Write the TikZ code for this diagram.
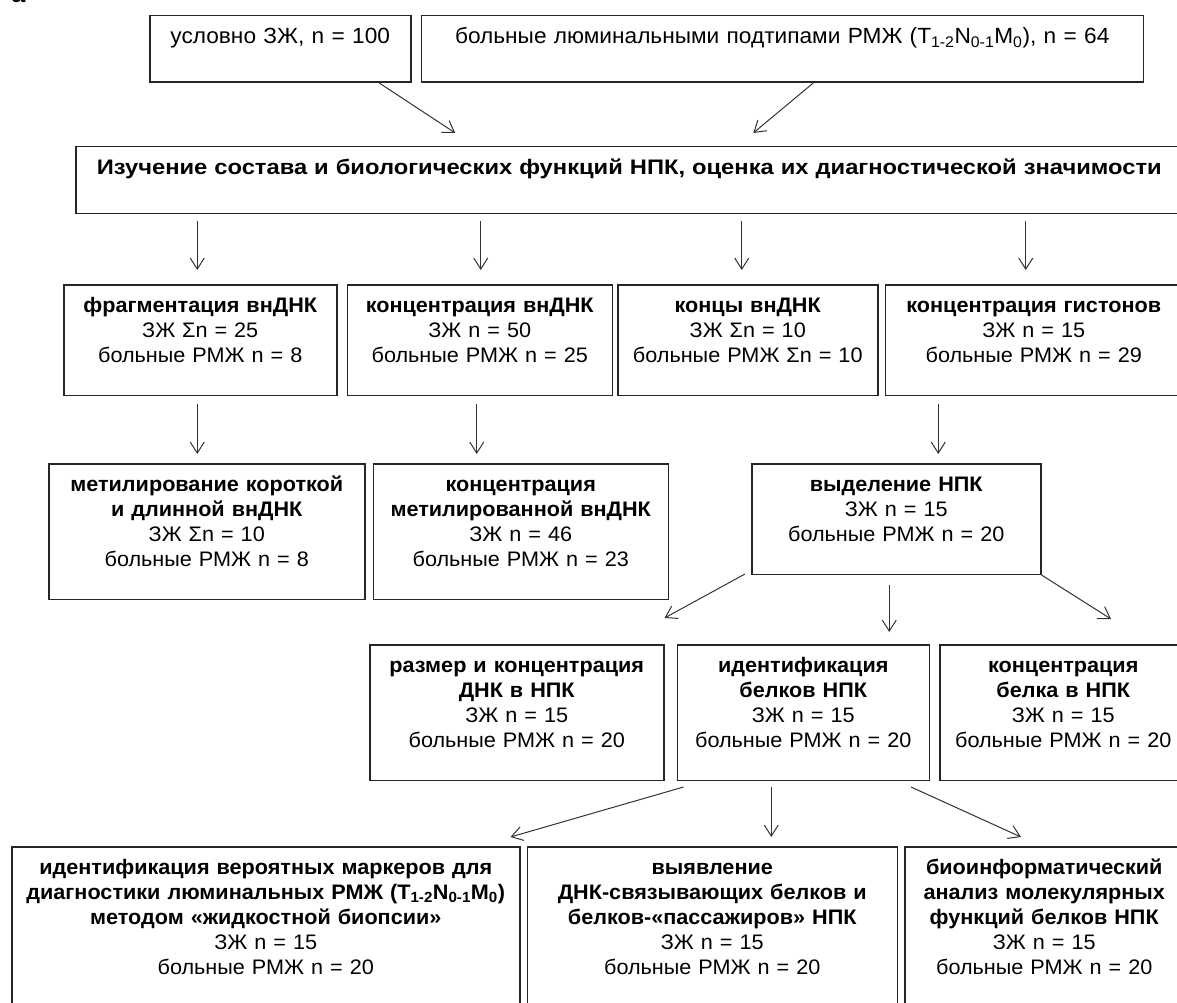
\documentclass[tikz,border=0pt]{standalone}
\usepackage{fontspec}
\setmainfont{Liberation Sans}[FakeStretch=1.03]
\newfontfamily\widefont{Liberation Sans}[FakeStretch=1.13]
\usepackage{tikz}
\usetikzlibrary{arrows.meta}
\usetikzlibrary{calc,positioning}

\begin{document}
\begin{tikzpicture}[x=1pt, y=1pt,
    box/.style={rectangle, draw=black!85, line width=1.5pt, align=center,
    anchor=north west, inner xsep=3pt, inner ysep=10.5pt, text=black,
    font=\fontsize{21}{25}\selectfont,
    execute at begin node={\strut}, execute at end node={\rule[-22pt]{0pt}{22pt}}},
    headbox/.style={box, execute at end node={\rule[-28pt]{0pt}{28pt}}},
    arr/.style={line width=1pt, draw=black!80, -{Straight Barb[length=11pt,width=14pt]}},]
    \useasboundingbox (0,0) rectangle (1177,-1003);

    \node (letter) [anchor=base west, font=\fontsize{24}{28}\selectfont\bfseries] at (8,-3) {a};

    \node (healthy) [headbox, text width=255pt, font=\fontsize{22}{25}\selectfont] at (149,-15) {условно ЗЖ, n = 100};
    \node (patients) [headbox, text width=716pt, font=\fontsize{22}{25}\selectfont, right=9pt of healthy.north east, anchor=north west]
    {больные люминальными подтипами РМЖ (T\textsubscript{1-2}N\textsubscript{0-1}M\textsubscript{0}), n = 64};

    \node (study) [headbox, text width=1101pt, font=\widefont\fontsize{21}{25}\selectfont] at (75,-146)
    {\textbf{Изучение состава и биологических функций НПК, оценка их диагностической значимости}};

    \node (fragm) [box, text width=267pt] at (63,-284)
    {\textbf{фрагментация внДНК}\\ ЗЖ Σn = 25\\ больные РМЖ n = 8};
    \node (conc) [box, text width=259pt, right=9pt of fragm.north east, anchor=north west]
    {\textbf{концентрация внДНК}\\ ЗЖ n = 50\\ больные РМЖ n = 25};
    \node (ends) [box, text width=254pt, right=4pt of conc.north east, anchor=north west]
    {\textbf{концы внДНК}\\ ЗЖ Σn = 10\\ больные РМЖ Σn = 10};
    \node (hist) [box, text width=291pt, right=6pt of ends.north east, anchor=north west]
    {\textbf{концентрация гистонов}\\ ЗЖ n = 15\\ больные РМЖ n = 29};

    \node (meth) [box, text width=310pt] at (48,-463)
    {\textbf{метилирование короткой}\\ \textbf{и длинной внДНК}\\ ЗЖ Σn = 10\\ больные РМЖ n = 8};
    \node (methconc) [box, text width=289pt, right=7pt of meth.north east, anchor=north west]
    {\textbf{концентрация}\\ \textbf{метилированной внДНК}\\ ЗЖ n = 46\\ больные РМЖ n = 23};
    \node (isol) [box, text width=283pt, right=82pt of methconc.north east, anchor=north west]
    {\textbf{выделение НПК}\\ ЗЖ n = 15\\ больные РМЖ n = 20};

    \node (size) [box, text width=288pt] at (369,-644)
    {\textbf{размер и концентрация}\\ \textbf{ДНК в НПК}\\ ЗЖ n = 15\\ больные РМЖ n = 20};
    \node (ident) [box, text width=246pt, right=12pt of size.north east, anchor=north west]
    {\textbf{идентификация}\\ \textbf{белков НПК}\\ ЗЖ n = 15\\ больные РМЖ n = 20};
    \node (protconc) [box, text width=241pt, right=9pt of ident.north east, anchor=north west]
    {\textbf{концентрация}\\ \textbf{белка в НПК}\\ ЗЖ n = 15\\ больные РМЖ n = 20};

    \node (markers) [box, text width=502pt] at (11,-846)
    {\textbf{идентификация вероятных маркеров для}\\ \textbf{диагностики люминальных РМЖ (T\textsubscript{1-2}N\textsubscript{0-1}M\textsubscript{0})}\\ \textbf{методом «жидкостной биопсии»}\\ ЗЖ n = 15\\ больные РМЖ n = 20};
    \node (dnabind) [box, text width=364pt, right=6pt of markers.north east, anchor=north west]
    {\textbf{выявление}\\ \textbf{ДНК-связывающих белков и}\\ \textbf{белков-«пассажиров» НПК}\\ ЗЖ n = 15\\ больные РМЖ n = 20};
    \node (bioinf) [box, text width=273pt, right=6pt of dnabind.north east, anchor=north west]
    {\textbf{биоинформатический}\\ \textbf{анализ молекулярных}\\ \textbf{функций белков НПК}\\ ЗЖ n = 15\\ больные РМЖ n = 20};

    % groups -> study
    \draw [arr] ($(healthy.south)+(99,0)$) -- ($(study.north)+(-174,13)$);
    \draw [arr] ($(patients.south)+(31,0)$) -- ($(study.north)+(124,13)$);

    % study -> methods
    \draw [arr] ($(study.south -| fragm.north)+(-3,-7)$) -- ($(fragm.north)+(-3,14)$);
    \draw [arr] ($(study.south -| conc.north)+(1,-7)$) -- ($(conc.north)+(1,14)$);
    \draw [arr] ($(study.south -| ends.north)+(-6,-7)$) -- ($(ends.north)+(-6,14)$);
    \draw [arr] ($(study.south -| hist.north)+(-8,-7)$) -- ($(hist.north)+(-8,14)$);

    \draw [arr] ($(fragm.south)+(-3,-8)$) -- ($(fragm.south |- meth.north)+(-3,9)$);
    \draw [arr] ($(conc.south)+(-3,-8)$) -- ($(conc.south |- methconc.north)+(-3,9)$);
    \draw [arr] ($(hist.south -| isol.north)+(42,-8)$) -- ($(isol.north)+(42,9)$);

    % isolation -> analyses
    \draw [arr] ($(isol.south west)+(-6,1)$) -- ($(size.north east)+(0,26)$);
    \draw [arr] ($(isol.south)+(-7,-10)$) -- ($(isol.south |- ident.north)+(-7,12)$);
    \draw [arr] (isol.south east) -- ($(protconc.north west)+(172,25)$);

    % proteins -> results
    \draw [arr] ($(ident.south west)+(7,-6)$) -- ($(markers.north east)+(-10,9)$);
    \draw [arr] ($(ident.south)+(-32,-6)$) -- ($(ident.south |- dnabind.north)+(-32,9)$);
    \draw [arr] ($(ident.south east)+(-19,-6)$) -- ($(bioinf.north west)+(117,9)$);
\end{tikzpicture}
\end{document}
